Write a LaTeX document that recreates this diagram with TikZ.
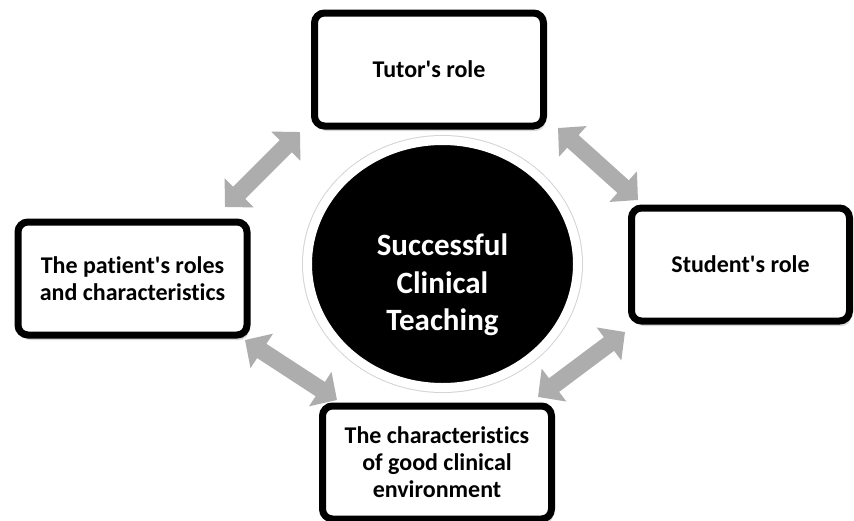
\documentclass[tikz,border=0pt]{standalone}
\usepackage{fontspec}
\setmainfont{Carlito}[Ligatures={NoCommon}]
\usepackage{xcolor}
\definecolor{linkgray}{HTML}{ADADAD}
\definecolor{ringgray}{HTML}{D2D4D8}
\usetikzlibrary{positioning,shapes,shadows,arrows.meta,calc}
\newcommand{\rolenode}[4]{
\node (#1) [rolebox, #2] at (#3) {#4};}
\newcommand{\apos}{\textquotesingle}
\tikzstyle{rolebox}=[rectangle, draw=black, line width=7pt, rounded corners=10pt, fill=white,
        drop shadow={opacity=0.3, shadow xshift=2pt, shadow yshift=-5pt},
        text centered, align=center, font={\fontsize{24}{27}\selectfont\bfseries},
        minimum width=229pt, minimum height=113pt, inner sep=0pt]
\tikzstyle{hub}=[ellipse, drop shadow={opacity=0.25, shadow xshift=2pt, shadow yshift=-4pt},
        preaction={draw=ringgray, line width=11pt}, fill=black, draw=white, line width=9pt,
        minimum width=270pt, minimum height=247pt]
\tikzstyle{hubtext}=[text=white, align=center, font={\fontsize{31}{37.5}\selectfont\bfseries}]
\tikzstyle{linkArrow}=[draw=linkgray, line width=17pt,
        {Triangle[width=40pt,length=20pt]}-{Triangle[width=40pt,length=20pt]}]

\begin{document}
\begin{tikzpicture}[x=1pt, y=-1pt]

\useasboundingbox[fill=white] (0,0) rectangle (854,520);

\node (CentreHub) [hub] at (442.5,264) {};
\node (HubLabel) [hubtext] at ($(CentreHub)+(0,21)$) {Successful\\Clinical\\Teaching};

\rolenode{TutorRole}{}{429,69.5}{Tutor\apos s role}
\rolenode{StudentRole}{minimum width=218pt}{740.5,264.5}{Student\apos s role}
\rolenode{PatientRole}{}{132.5,278.5}{The patient\apos s roles\\and characteristics}
\rolenode{ClinicalEnv}{}{437,462.5}{The characteristics\\of good clinical\\environment}

\draw[linkArrow] ($(TutorRole.south west)+(-11,2.5)$) -- ($(PatientRole.north east)+(-25.5,-11.5)$);
\draw[linkArrow] ($(TutorRole.south east)+(11,-1.5)$) -- ($(StudentRole.north west)+(10,-4.5)$);
\draw[linkArrow] ($(PatientRole.south east)+(-5.5,1.5)$) -- ($(ClinicalEnv.north west)+(18,-2.5)$);
\draw[linkArrow] ($(StudentRole.south west)+(-3,7.5)$) -- ($(ClinicalEnv.north east)+(-17,-5.5)$);

\end{tikzpicture}
\end{document}
